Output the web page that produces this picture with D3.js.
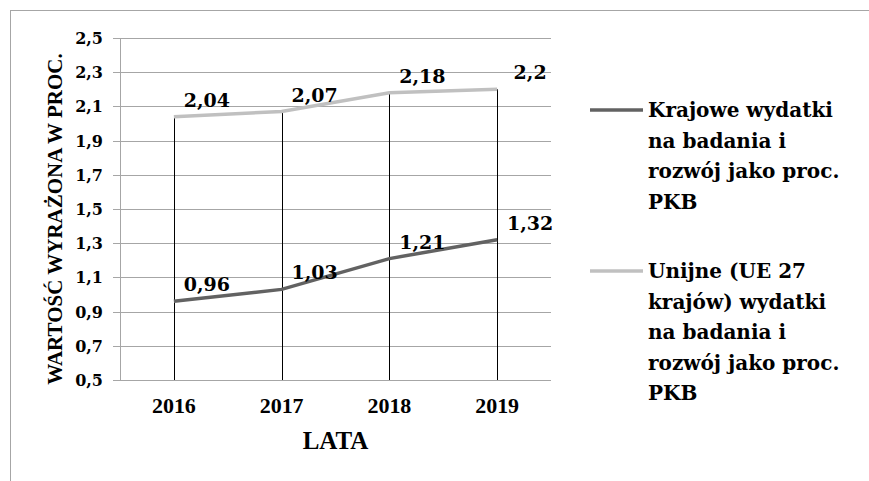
<!DOCTYPE html>
<html>
<head>
<meta charset="utf-8">
<script src="https://cdnjs.cloudflare.com/ajax/libs/d3/7.8.5/d3.min.js"></script>
<style>
  html, body { margin: 0; padding: 0; background: #fff; }
  svg { display: block; }
  text { font-family: "Times New Roman", serif; font-weight: bold; fill: #000; }
  text.wide { font-family: "DejaVu Serif", serif; }
</style>
</head>
<body>
<svg id="chart" width="869" height="481"></svg>
<script>
// data
const years = ["2016", "2017", "2018", "2019"];
const krajowe = [0.96, 1.03, 1.21, 1.32];
const unijne = [2.04, 2.07, 2.18, 2.2];
const yTicks = [0.5, 0.7, 0.9, 1.1, 1.3, 1.5, 1.7, 1.9, 2.1, 2.3, 2.5];
const legendKrajowe = ["Krajowe wydatki", "na badania i", "rozwój jako proc.", "PKB"];
const legendUnijne = ["Unijne (UE 27", "krajów) wydatki", "na badania i", "rozwój jako proc.", "PKB"];

const series = [
  {name: "krajowe", values: krajowe, color: "#626262", legend: legendKrajowe},
  {name: "unijne", values: unijne, color: "#c0c0c0", legend: legendUnijne}
];

const fmt = v => String(v).replace(".", ",");

const svg = d3.select("#chart");
const plot = {left: 120, right: 551, top: 38, bottom: 380};

// outer frame, right and bottom edges fall outside the picture
svg.append("rect")
  .attr("x", 10.5).attr("y", 10.5)
  .attr("width", 900).attr("height", 500)
  .attr("fill", "none").attr("stroke", "#a6a6a6");

const x = d3.scaleBand().domain(years).range([plot.left, plot.right]);
const y = d3.scaleLinear().domain([0.5, 2.5]).range([plot.bottom, plot.top]);
const cx = d => x(d) + x.bandwidth() / 2;

// grid lines
svg.append("g")
  .selectAll("line")
  .data(yTicks)
  .join("line")
  .attr("x1", plot.left - 7).attr("x2", plot.right)
  .attr("y1", d => Math.round(y(d)) + 0.5).attr("y2", d => Math.round(y(d)) + 0.5)
  .attr("stroke", "#a6a6a6").attr("stroke-width", 1);

// y axis line
svg.append("line")
  .attr("x1", plot.left + 0.5).attr("x2", plot.left + 0.5)
  .attr("y1", plot.top).attr("y2", plot.bottom)
  .attr("stroke", "#a6a6a6");

// y tick labels
svg.append("g")
  .selectAll("text")
  .data(yTicks)
  .join("text")
  .attr("class", "wide")
  .attr("x", 103).attr("y", d => y(d) + 6)
  .attr("text-anchor", "end")
  .attr("font-size", 16)
  .text(fmt);

// x labels
svg.append("g")
  .selectAll("text")
  .data(years)
  .join("text")
  .attr("transform", d => "translate(" + cx(d) + ",413) scale(1.1,1)")
  .attr("text-anchor", "middle")
  .attr("font-size", 20)
  .text(d => d);

// drop lines from the highest point down to the axis
svg.append("g")
  .selectAll("line")
  .data(years)
  .join("line")
  .attr("x1", d => Math.round(cx(d)) + 0.5)
  .attr("x2", d => Math.round(cx(d)) + 0.5)
  .attr("y1", (d, i) => y(Math.max(krajowe[i], unijne[i])))
  .attr("y2", plot.bottom)
  .attr("stroke", "#000").attr("stroke-width", 1);

// series lines
const line = d3.line()
  .x((d, i) => cx(years[i]))
  .y(d => y(d));

svg.append("g")
  .selectAll("path")
  .data(series)
  .join("path")
  .attr("d", d => line(d.values))
  .attr("fill", "none")
  .attr("stroke", d => d.color)
  .attr("stroke-width", 3.5);

// data labels
series.forEach(s => {
  svg.append("g")
    .selectAll("text")
    .data(s.values)
    .join("text")
    .attr("class", "wide")
    .attr("x", (d, i) => cx(years[i]) + 33)
    .attr("y", d => y(d) - 10)
    .attr("text-anchor", "middle")
    .attr("font-size", 19)
    .text(fmt);
});

// axis titles
svg.append("text")
  .attr("transform", "translate(62," + ((plot.top + plot.bottom) / 2 + 10) + ") rotate(-90)")
  .attr("text-anchor", "middle")
  .attr("font-size", 21)
  .text("WARTOŚĆ  WYRAŻONA  W PROC.");

svg.append("text")
  .attr("x", (plot.left + plot.right) / 2)
  .attr("y", 449)
  .attr("text-anchor", "middle")
  .attr("font-size", 25)
  .text("LATA");

// legend
const legendTop = [110, 271];
series.forEach((s, k) => {
  const g = svg.append("g").attr("transform", "translate(590," + legendTop[k] + ")");
  g.append("line")
    .attr("x1", 0).attr("x2", 53)
    .attr("y1", 0).attr("y2", 0)
    .attr("stroke", s.color).attr("stroke-width", 3.5);
  g.selectAll("text")
    .data(s.legend)
    .join("text")
    .attr("class", "wide")
    .attr("x", 58)
    .attr("y", (d, i) => 7 + i * 30.5)
    .attr("font-size", 20)
    .text(d => d);
});
</script>
</body>
</html>
